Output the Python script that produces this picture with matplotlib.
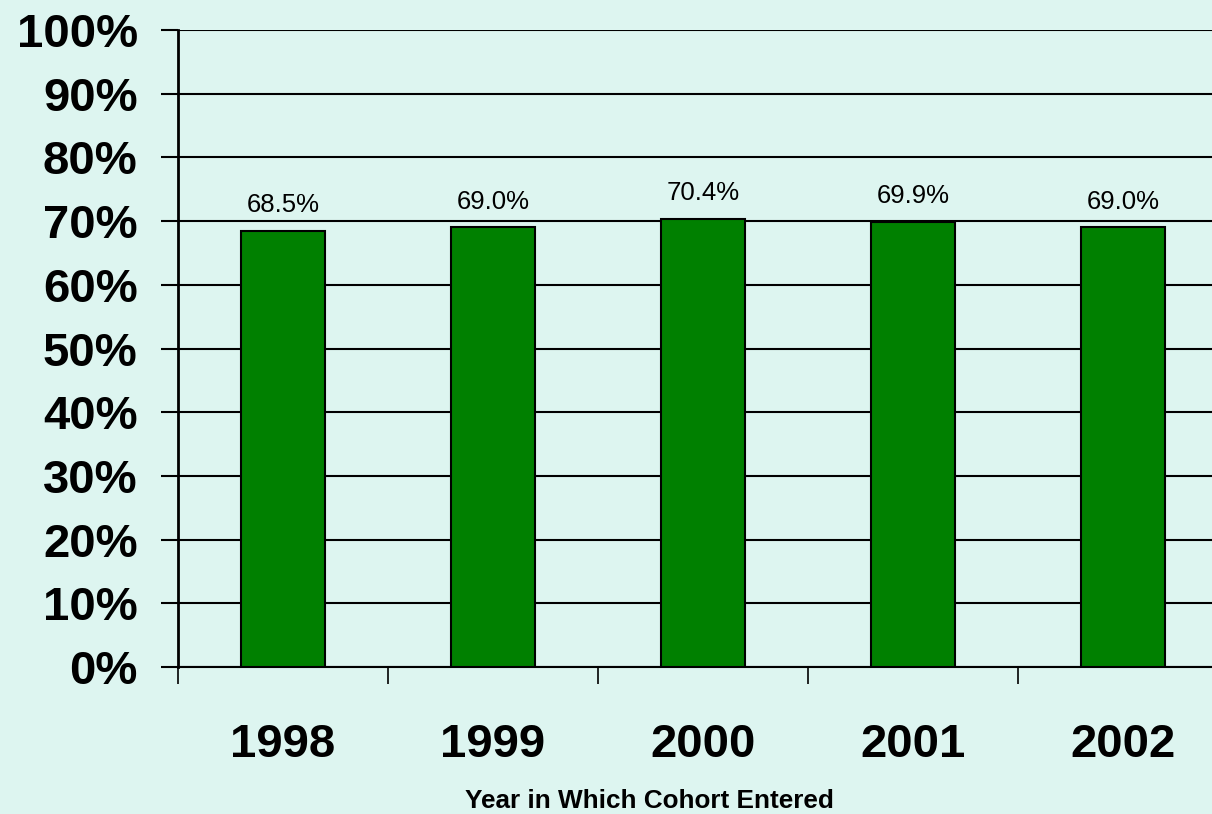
import matplotlib.pyplot as plt
import numpy as np

plt.rcParams['font.family'] = ['Liberation Sans', 'DejaVu Sans']

years = ['1998', '1999', '2000', '2001', '2002']
rates = [68.5, 69.0, 70.4, 69.9, 69.0]
bg = '#DDF5F0'

fig = plt.figure(figsize=(12.12, 8.14), dpi=100, facecolor=bg)
# axes runs past the right edge of the figure, as in the original
ax = fig.add_axes([178/1212, 147/814, 1050/1212, 637/814])
ax.set_facecolor(bg)

x = np.arange(len(years))
ax.bar(x, rates, width=0.4, color='#008000', edgecolor='black', linewidth=1.5, zorder=3)

for xi, v in zip(x, rates):
  ax.annotate('%.1f%%' % v, (xi, v), xytext=(0, 10), textcoords='offset points',
              ha='center', va='bottom', fontsize=18.5)

ax.set_xlim(-0.5, len(years) - 0.5)
ax.set_ylim(0, 100)
ax.set_yticks(np.arange(0, 101, 10))
ax.set_yticklabels(['%d%%' % t for t in range(0, 101, 10)], fontsize=34, fontweight='bold')
ax.yaxis.grid(True, color='black', linewidth=1.5, zorder=0)
ax.tick_params(axis='y', length=12, width=1.5, pad=17)

# ticks at category boundaries, labels at the centres
ax.set_xticks(np.arange(-0.5, len(years), 1.0))
ax.set_xticklabels([])
ax.set_xticks(x, minor=True)
ax.set_xticklabels(years, minor=True, fontsize=34, fontweight='bold')
ax.tick_params(axis='x', which='major', length=12, width=1.2, direction='out')
ax.tick_params(axis='x', which='minor', length=0, pad=40)

for s in ['top', 'right']:
  ax.spines[s].set_visible(False)
ax.spines['left'].set_linewidth(2)
ax.spines['bottom'].set_linewidth(1.5)

fig.text(649/1212, 1 - 801/814, 'Year in Which Cohort Entered', ha='center', va='center',
         fontsize=18.8, fontweight='bold')

fig.savefig('out.png', dpi=100, facecolor=bg)
